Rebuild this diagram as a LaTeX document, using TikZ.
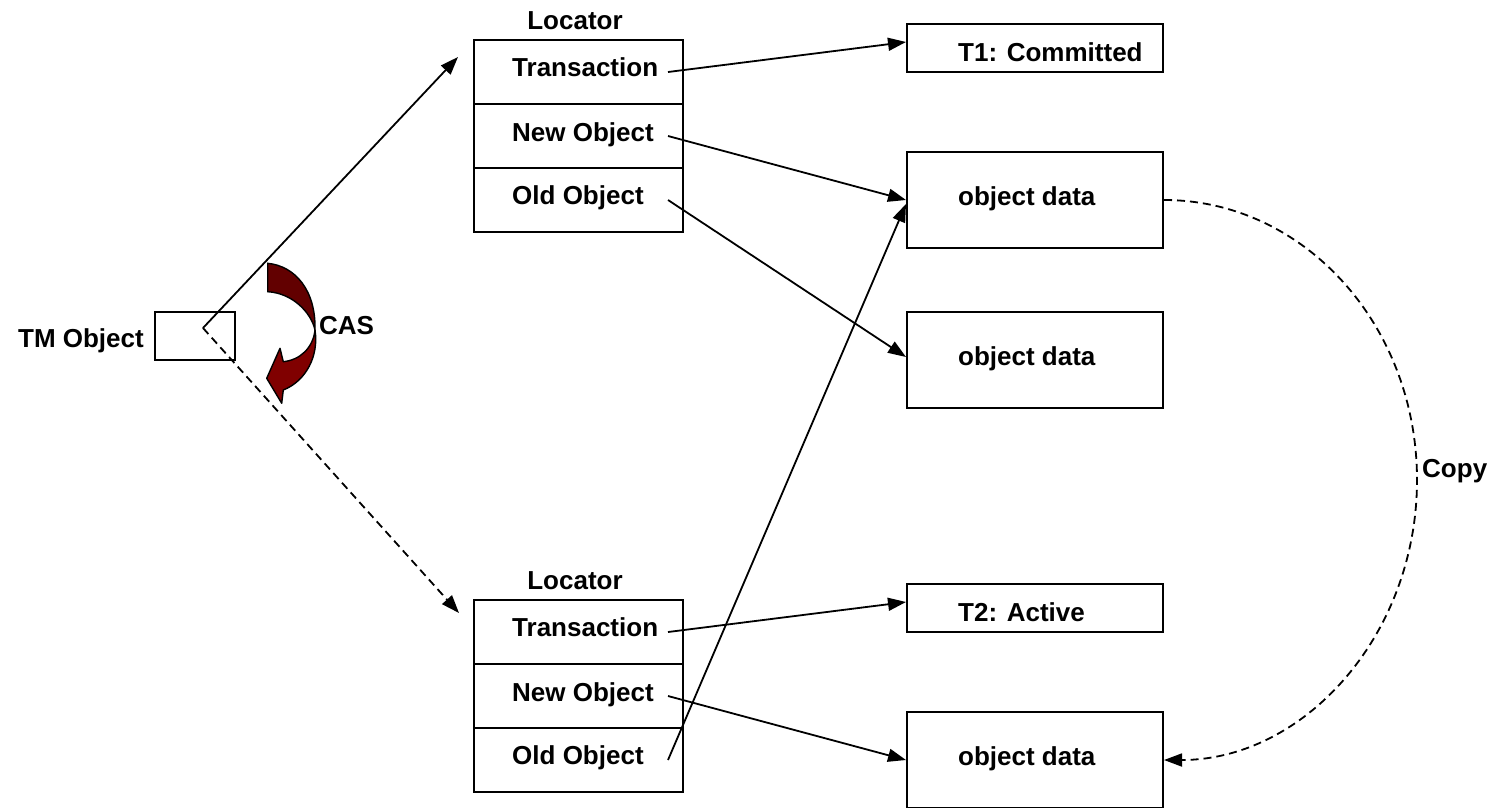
\documentclass[tikz,border=0pt]{standalone}
\usepackage{fontspec}
\setmainfont{Liberation Sans}
\usetikzlibrary{arrows.meta,calc}
\definecolor{castop}{HTML}{620000}
\definecolor{casbot}{HTML}{800000}
\begin{document}
\begin{tikzpicture}[x=1pt,y=-1pt,
  box/.style={draw,line width=2pt,rectangle,inner sep=0pt},
  rowbox/.style={box,minimum width=209pt,minimum height=64pt},
  rbox/.style={box,minimum width=256pt},
  lbl/.style={font=\fontsize{26}{30}\selectfont\bfseries,inner sep=0pt},
  arr/.style={line width=1.8pt,-{Triangle[length=18pt,width=13pt]}},
  dsh/.style={dash pattern=on 8pt off 5pt}]
\useasboundingbox (0,0) rectangle (1495,807);

% TM object
\node[box,minimum width=80pt,minimum height=48pt] (tm) at (195,336) {};
\node[lbl,anchor=base east] (tmlbl) at (144,347) {TM Object};
\coordinate (tmp) at (203,328);

% Locator 1
\node[lbl,anchor=base] (loc1) at (575,29) {Locator};
\node[rowbox] (l1t) at (578.5,72) {};
\node[rowbox] (l1n) at (578.5,136) {};
\node[rowbox] (l1o) at (578.5,200) {};
\node[lbl,anchor=base west] (l1tt) at (512,76) {Transaction};
\node[lbl,anchor=base west] (l1nt) at (512,141) {New Object};
\node[lbl,anchor=base west] (l1ot) at (512,204) {Old Object};
\coordinate (p1) at (458,57);

% Locator 2
\node[lbl,anchor=base] (loc2) at (575,589) {Locator};
\node[rowbox] (l2t) at (578.5,632) {};
\node[rowbox] (l2n) at (578.5,696) {};
\node[rowbox] (l2o) at (578.5,760) {};
\node[lbl,anchor=base west] (l2tt) at (512,636) {Transaction};
\node[lbl,anchor=base west] (l2nt) at (512,701) {New Object};
\node[lbl,anchor=base west] (l2ot) at (512,764) {Old Object};
\coordinate (p2) at (459,613);

% right boxes
\node[rbox,minimum height=48pt] (t1) at (1035,48) {};
\node[lbl,anchor=base west] (t1t) at (958,61) {T1: Committed};
\node[rbox,minimum height=96pt] (o1) at (1035,200) {};
\node[lbl,anchor=base west] (o1t) at (958,205) {object data};
\node[rbox,minimum height=96pt] (o2) at (1035,360) {};
\node[lbl,anchor=base west] (o2t) at (958,365) {object data};
\node[rbox,minimum height=48pt] (t2) at (1035,608) {};
\node[lbl,anchor=base west] (t2t) at (958,621) {T2: Active};
\node[rbox,minimum height=96pt] (o3) at (1035,760) {};
\node[lbl,anchor=base west] (o3t) at (958,765) {object data};

% CAS arrow
\filldraw[fill=castop,draw=black,line width=1.4pt]
  (267.7,263.3) .. controls (295,266) and (316,290) .. (315,330)
  .. controls (311,312) and (292,293) .. (267.7,291.7) -- cycle;
\filldraw[fill=casbot,draw=black,line width=1.4pt,line join=round]
  (315,330) .. controls (313,348) and (300,360) .. (283.3,361.7)
  -- (280,348.3) -- (266.7,378.3) -- (281.7,403.3) -- (283.3,390)
  .. controls (306,381) and (319,356) .. (315,330) -- cycle;
\node[lbl,anchor=base west] (cas) at (319,334) {CAS};

% connectors
\draw[arr] (tmp) -- (p1);
\draw[arr,dsh] (tmp) -- (p2);
\draw[arr] ([xshift=-16pt]l1t.east) -- ([yshift=6pt]t1.west);
\draw[arr] ([xshift=-16pt]l1n.east) -- (o1.west);
\draw[arr] ([xshift=-16pt]l1o.east) -- ([yshift=3pt]o2.west);
\draw[arr] ([xshift=-16pt]l2t.east) -- ([yshift=6pt]t2.west);
\draw[arr] ([xshift=-16pt]l2n.east) -- (o3.west);
\draw[arr] ([xshift=-16pt]l2o.east) -- ([yshift=-4pt]o1.west);

% copy
\coordinate (cmid) at (1417,480);
\draw[arr,dsh] (o1.east) .. controls +(140,0) and +(0,-155) .. (cmid)
  .. controls +(0,155) and +(140,0) .. (o3.east);
\node[lbl,anchor=base west] (copy) at (1422,477) {Copy};
\end{tikzpicture}
\end{document}
